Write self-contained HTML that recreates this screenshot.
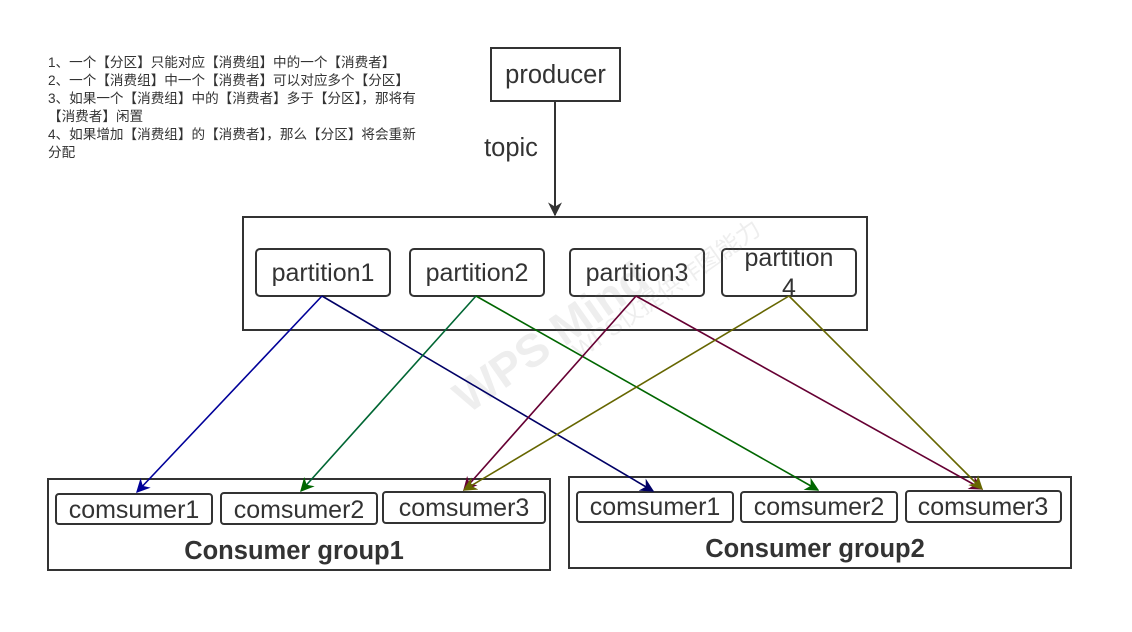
<!DOCTYPE html>
<html><head><meta charset="utf-8"><style>
html,body{margin:0;padding:0;background:#fff;width:1132px;height:632px;overflow:hidden}
svg text{font-family:"Liberation Sans","Noto Sans CJK SC",sans-serif;fill:#333}
</style></head><body>
<svg width="1132" height="632" viewBox="0 0 1132 632" xmlns="http://www.w3.org/2000/svg">
<defs>
<marker id="m1" viewBox="0 0 10 10" refX="9" refY="5" markerWidth="14" markerHeight="14" orient="auto" markerUnits="userSpaceOnUse"><path d="M0,0 L10,5 L0,10 L3,5 z" fill="#000099"/></marker>
<marker id="m1b" viewBox="0 0 10 10" refX="9" refY="5" markerWidth="14" markerHeight="14" orient="auto" markerUnits="userSpaceOnUse"><path d="M0,0 L10,5 L0,10 L3,5 z" fill="#000066"/></marker>
<marker id="m2" viewBox="0 0 10 10" refX="9" refY="5" markerWidth="14" markerHeight="14" orient="auto" markerUnits="userSpaceOnUse"><path d="M0,0 L10,5 L0,10 L3,5 z" fill="#006600"/></marker>
<marker id="m3" viewBox="0 0 10 10" refX="9" refY="5" markerWidth="14" markerHeight="14" orient="auto" markerUnits="userSpaceOnUse"><path d="M0,0 L10,5 L0,10 L3,5 z" fill="#660033"/></marker>
<marker id="m4" viewBox="0 0 10 10" refX="9" refY="5" markerWidth="14" markerHeight="14" orient="auto" markerUnits="userSpaceOnUse"><path d="M0,0 L10,5 L0,10 L3,5 z" fill="#666600"/></marker>
<marker id="m0" viewBox="0 0 10 10" refX="9" refY="5" markerWidth="14" markerHeight="14" orient="auto" markerUnits="userSpaceOnUse"><path d="M0,0 L10,5 L0,10 L3,5 z" fill="#333"/></marker>
</defs>

<g font-size="13.6">
<text x="48" y="67">1、一个【分区】只能对应【消费组】中的一个【消费者】</text>
<text x="48" y="85">2、一个【消费组】中一个【消费者】可以对应多个【分区】</text>
<text x="48" y="103">3、如果一个【消费组】中的【消费者】多于【分区】，那将有</text>
<text x="48" y="121">【消费者】闲置</text>
<text x="48" y="139">4、如果增加【消费组】的【消费者】，那么【分区】将会重新</text>
<text x="48" y="157">分配</text>
</g>

<rect x="491" y="48" width="129" height="53" fill="#fff" stroke="#333" stroke-width="2"/>
<text x="555.5" y="83" font-size="25.5" text-anchor="middle">producer</text>
<text x="511" y="156" font-size="25.5" text-anchor="middle">topic</text>
<line x1="555" y1="101" x2="555" y2="215" stroke="#333" stroke-width="2" marker-end="url(#m0)"/>

<rect x="243" y="217" width="624" height="113" fill="none" stroke="#333" stroke-width="2"/>
<g fill="#fff" stroke="#333" stroke-width="2">
<rect x="256" y="249" width="134" height="47" rx="4"/>
<rect x="410" y="249" width="134" height="47" rx="4"/>
<rect x="570" y="249" width="134" height="47" rx="4"/>
<rect x="722" y="249" width="134" height="47" rx="4"/>
</g>
<g font-size="25" text-anchor="middle">
<text x="323" y="281">partition1</text>
<text x="477" y="281">partition2</text>
<text x="637" y="281">partition3</text>
<text x="789" y="266">partition</text>
<text x="789" y="296">4</text>
</g>

<g opacity="0.12">
<text x="560" y="350" font-size="46" font-weight="bold" transform="rotate(-35 560 350)" text-anchor="middle" style="fill:#777">WPS Mind</text>
<text x="580" y="360" font-size="24" transform="rotate(-35 580 360)" style="fill:#777">WPS仅提供作图能力</text>
</g>

<rect x="48" y="479" width="502" height="91" fill="none" stroke="#333" stroke-width="2"/>
<rect x="569" y="477" width="502" height="91" fill="none" stroke="#333" stroke-width="2"/>
<g fill="#fff" stroke="#333" stroke-width="2">
<rect x="56" y="494" width="156" height="30" rx="3"/>
<rect x="221" y="493" width="156" height="31" rx="3"/>
<rect x="383" y="492" width="162" height="31" rx="3"/>
<rect x="577" y="492" width="156" height="30" rx="3"/>
<rect x="741" y="492" width="156" height="30" rx="3"/>
<rect x="906" y="491" width="155" height="31" rx="3"/>
</g>
<g font-size="25" text-anchor="middle">
<text x="134" y="518">comsumer1</text>
<text x="299" y="518">comsumer2</text>
<text x="464" y="516">comsumer3</text>
<text x="655" y="515">comsumer1</text>
<text x="819" y="515">comsumer2</text>
<text x="983" y="515">comsumer3</text>
</g>
<g font-size="25.5" font-weight="bold" text-anchor="middle">
<text x="294" y="559">Consumer group1</text>
<text x="815" y="557">Consumer group2</text>
</g>

<g fill="none" stroke-width="1.6">
<line x1="322" y1="296" x2="137" y2="492" stroke="#000099" marker-end="url(#m1)"/>
<line x1="322" y1="296" x2="653" y2="491" stroke="#000066" marker-end="url(#m1b)"/>
<line x1="476" y1="296" x2="301" y2="491" stroke="#006633" marker-end="url(#m2)"/>
<line x1="476" y1="296" x2="818" y2="490" stroke="#006600" marker-end="url(#m2)"/>
<line x1="636" y1="296" x2="464" y2="490" stroke="#660033" marker-end="url(#m3)"/>
<line x1="636" y1="296" x2="982" y2="489" stroke="#660033" marker-end="url(#m3)"/>
<line x1="789" y1="296" x2="464" y2="490" stroke="#666600" marker-end="url(#m4)"/>
<line x1="789" y1="296" x2="982" y2="489" stroke="#666600" marker-end="url(#m4)"/>
</g>
</svg>
</body></html>
